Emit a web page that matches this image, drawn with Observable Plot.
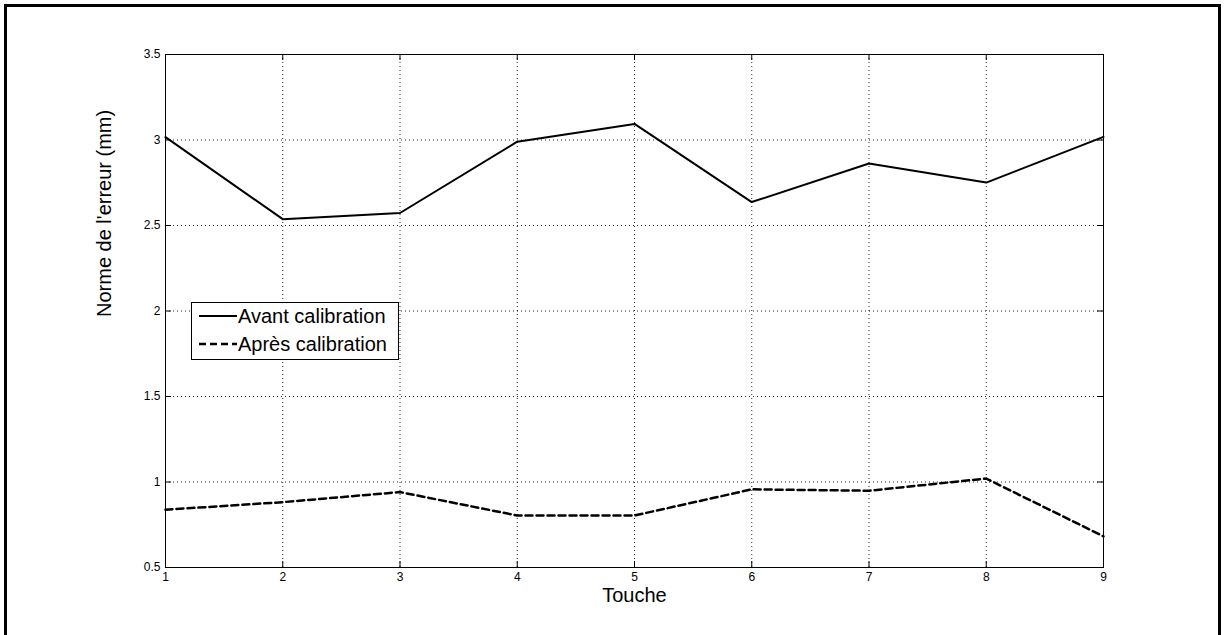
<!DOCTYPE html>
<html>
<head>
<meta charset="utf-8">
<script src="https://cdn.jsdelivr.net/npm/d3@7"></script>
<script src="https://cdn.jsdelivr.net/npm/@observablehq/plot@0.6"></script>
<style>
  html, body { margin: 0; padding: 0; background: white; }
  #wrap { position: relative; width: 1226px; height: 635px; overflow: hidden; font-family: Arial, "Liberation Sans", sans-serif; }
  #outer { position: absolute; left: 4px; top: 4px; width: 1211px; height: 640px; border: 3px solid black; border-bottom: none; pointer-events: none; }
  #legend { position: absolute; left: 191px; top: 302px; width: 206px; height: 56px; border: 1px solid black; background: white; }
  .row { position: absolute; left: 0; height: 26px; display: flex; align-items: center; }
  .row svg { margin-left: 7px; }
  .row span { font-size: 20px; color: black; margin-left: 1px; white-space: nowrap; }
</style>
</head>
<body>
<div id="wrap">
  <div id="chart"></div>
  <div id="outer"></div>
  <div id="legend"></div>
</div>
<script>
const touches = [1, 2, 3, 4, 5, 6, 7, 8, 9];
const avant = [3.017, 2.537, 2.573, 2.99, 3.094, 2.637, 2.863, 2.751, 3.018];
const apres = [0.838, 0.882, 0.941, 0.804, 0.804, 0.957, 0.949, 1.02, 0.682];
const xTicks = [1, 2, 3, 4, 5, 6, 7, 8, 9];
const yTicks = [0.5, 1, 1.5, 2, 2.5, 3, 3.5];
const seriesNames = ["Avant calibration", "Après calibration"];
const xTitle = "Touche";
const yTitle = "Norme de l'erreur (mm)";

const W = 1226, H = 635;
const mL = 165, mR = 123, mT = 54, mB = 68;
const innerW = W - mL - mR, innerH = H - mT - mB;
const tickLen = 6;

const data = touches.map((t, i) => ({touche: t, avant: avant[i], apres: apres[i]}));

const chart = Plot.plot({
  width: W, height: H,
  marginLeft: mL, marginRight: mR, marginTop: mT, marginBottom: mB,
  style: {fontFamily: "Arial, 'Liberation Sans', sans-serif", fontSize: "12px", color: "black", background: "transparent"},
  x: {domain: [1, 9]},
  y: {domain: [0.5, 3.5]},
  marks: [
    Plot.gridX(xTicks, {stroke: "black", strokeOpacity: 0.85, strokeDasharray: "1,3"}),
    Plot.gridY(yTicks, {stroke: "black", strokeOpacity: 0.85, strokeDasharray: "1,3"}),
    Plot.line(data, {x: "touche", y: "avant", stroke: "black", strokeWidth: 2}),
    Plot.line(data, {x: "touche", y: "apres", stroke: "black", strokeWidth: 2.5, strokeDasharray: "7,4"}),
    Plot.tickX(xTicks, {x: d => d, insetTop: innerH - tickLen, stroke: "black"}),
    Plot.tickX(xTicks, {x: d => d, insetBottom: innerH - tickLen, stroke: "black"}),
    Plot.tickY(yTicks, {y: d => d, insetRight: innerW - tickLen, stroke: "black"}),
    Plot.tickY(yTicks, {y: d => d, insetLeft: innerW - tickLen, stroke: "black"}),
    Plot.frame({stroke: "black", strokeWidth: 1}),
    Plot.axisX(xTicks, {tickSize: 0, tickPadding: 5, label: null, tickFormat: d => String(d), fontSize: 12}),
    Plot.axisY(yTicks, {tickSize: 0, tickPadding: 5, label: null, tickFormat: d => String(d), fontSize: 12}),
    Plot.text([xTitle], {text: d => d, frameAnchor: "bottom", dy: 34, fontSize: 20, fill: "black"}),
    Plot.text([yTitle], {text: d => d, frameAnchor: "left", dx: -61, dy: 6, rotate: -90, fontSize: 20, fill: "black"})
  ]
});
document.getElementById("chart").appendChild(chart);

// legend
const legend = document.getElementById("legend");
const dashes = [null, "7,4"];
const widths = [2, 2.5];
seriesNames.forEach((name, i) => {
  const row = document.createElement("div");
  row.className = "row";
  row.style.top = (i === 0 ? 0 : 28) + "px";
  const svg = d3.create("svg").attr("width", 38).attr("height", 10);
  svg.append("line").attr("x1", 0).attr("x2", 38).attr("y1", 5).attr("y2", 5)
    .attr("stroke", "black").attr("stroke-width", widths[i])
    .attr("stroke-dasharray", dashes[i]);
  row.appendChild(svg.node());
  const span = document.createElement("span");
  span.textContent = name;
  row.appendChild(span);
  legend.appendChild(row);
});
</script>
</body>
</html>
